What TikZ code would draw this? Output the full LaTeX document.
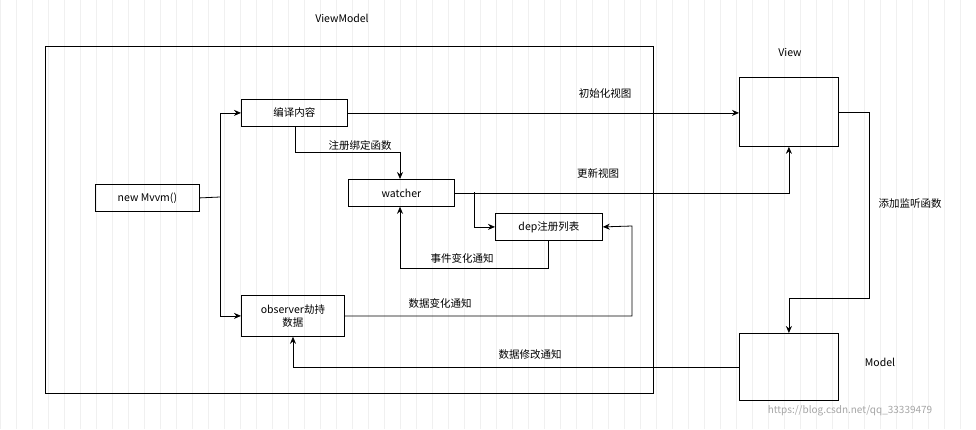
\documentclass[tikz,border=0pt]{standalone}
\usepackage{fontspec}
\setmainfont{Noto Sans CJK SC}
\usetikzlibrary{arrows.meta}
\begin{document}
\begin{tikzpicture}[x=1pt,y=-1pt,
    box/.style = {draw, thick, inner sep=0pt, anchor=north west, font=\fontsize{10.5}{12.5}\selectfont, align=center},
    lbl/.style = {font=\fontsize{10.5}{12.5}\selectfont},
    link/.style = {thick, -{Stealth[length=7pt,width=6pt]}},
    ]
    \useasboundingbox (0,0) rectangle (976,429);
    \fill[white] (0,0) rectangle (976,429);
    \draw[black!6, very thin, step=16] (0,0) grid (976,429);
    % outer frame
    \draw[thick] (45,46) rectangle (653,393);
    \node[lbl] (vmlabel) at (342,18) {ViewModel};
    % boxes
    \node[box, minimum width=104, minimum height=27] (mvvm) at (95,184) {new Mvvm()};
    \node[box, minimum width=106, minimum height=27] (compile) at (241,99) {编译内容};
    \node[box, minimum width=106, minimum height=27] (watcher) at (348,179) {watcher};
    \node[box, minimum width=107, minimum height=27] (dep) at (495,213) {dep注册列表};
    \node[box, minimum width=103, minimum height=41] (observer) at (241,295) {observer劫持\\数据};
    \node[box, minimum width=99, minimum height=69] (view) at (739,77) {};
    \node[box, minimum width=99, minimum height=67] (model) at (739,333) {};
    \node[lbl] (viewlabel) at (790,52) {View};
    \node[lbl] (modellabel) at (880,362) {Model};
    \coordinate (split) at (220,197);
    \coordinate (dsplit) at (474,192);
    % connectors
    \draw[thick] (mvvm.east) -- (split);
    \draw[link] (split) |- (compile.west);
    \draw[link] (split) |- (observer.west);
    \draw[link] (compile.east) -- (view.west |- compile.east);
    \draw[link] (compile.south -| 295,0) |- (400,152) -- (watcher.north -| 400,0);
    \draw[link] (watcher.east) -| (view.south);
    \draw[link] (dsplit) |- (dep.west);
    \draw[link] (dep.south -| 548,0) |- (400,268) -- (watcher.south -| 400,0);
    \draw[link] (observer.east) -| (632,226) -- (dep.east);
    \draw[link] (view.east) -| (869,298) -| (model.north);
    \draw[link] (model.west) -| (observer.south -| 293,0);
    % labels
    \node[lbl] (l1) at (605,94) {初始化视图};
    \node[lbl] (l2) at (360,145) {注册绑定函数};
    \node[lbl] (l3) at (598,173) {更新视图};
    \node[lbl] (l4) at (462,258) {事件变化通知};
    \node[lbl] (l5) at (440,303) {数据变化通知};
    \node[lbl] (l6) at (910,204) {添加监听函数};
    \node[lbl] (l7) at (530,355) {数据修改通知};
    \node[font=\fontsize{10}{12}\selectfont, text=black!35] (mark) at (850,411) {https://blog.csdn.net/qq\_33339479};
\end{tikzpicture}
\end{document}
